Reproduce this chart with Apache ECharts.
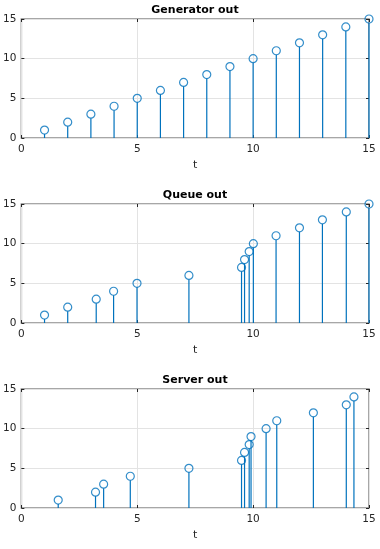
<!DOCTYPE html>
<html><head><meta charset="utf-8">
<script src="https://cdn.jsdelivr.net/npm/echarts@6/dist/echarts.min.js"></script>
<style>html,body{margin:0;padding:0;background:#fff}#c{width:380px;height:549px}</style>
</head><body><div id="c"></div>
<script>
const titles = ['Generator out', 'Queue out', 'Server out'];
const genT = [1,2,3,4,5,6,7,8,9,10,11,12,13,14,15];
const genV = [1,2,3,4,5,6,7,8,9,10,11,12,13,14,15];
const queueT = [1.0,2.0,3.23,3.98,4.99,7.23,9.5,9.63,9.83,10.01,10.99,12.0,12.99,14.02,15.0];
const queueV = [1,2,3,4,5,6,7,8,9,10,11,12,13,14,15];
const serverT = [1.59,3.2,3.55,4.7,7.23,9.5,9.63,9.83,9.91,10.56,11.02,12.6,14.02,14.35];
const serverV = [1,2,3,4,5,6,7,8,9,10,11,12,13,14];
const xTicks = [0,5,10,15];
const yTicks = [0,5,10,15];

const sets = [[genT,genV],[queueT,queueV],[serverT,serverV]];
const tops = [19, 204, 389];
const H = 119;
const FONT = 'DejaVu Sans, Liberation Sans, sans-serif';
const BLUE = '#0072BD';
const LINE = {show:false, onZero:false};
const TICK = {show:true, inside:true, length:3, lineStyle:{color:'#262626', width:1}};
const chart = echarts.init(document.getElementById('c'), null, {renderer:'canvas'});

const grid = [], xAxis = [], yAxis = [], series = [], title = [];
tops.forEach((top, i) => {
  grid.push({left:21, right:11, top:top, height:H, show:true, borderColor:'#8a8a8a', borderWidth:1.5, backgroundColor:'#fff', containLabel:false});
  title.push({text:titles[i], left:190, textAlign:'center', top:top-19,
    textStyle:{fontFamily:FONT, fontSize:11, fontWeight:'bold', color:'#000'}});
  const common = {type:'value', min:xTicks[0], max:xTicks[xTicks.length-1], interval:5, gridIndex:i};
  xAxis.push(Object.assign({}, common, {position:'bottom', name:'t', nameLocation:'middle', nameGap:22,
    nameTextStyle:{fontFamily:FONT, fontSize:11, color:'#262626'},
    axisLine:LINE, axisTick:TICK,
    axisLabel:{fontFamily:FONT, fontSize:10.5, color:'#262626', margin:6},
    splitLine:{show:true, lineStyle:{color:'#e3e3e3', width:1}}}));
  xAxis.push(Object.assign({}, common, {position:'top', axisLine:LINE,
    axisTick:TICK, axisLabel:{show:false}, splitLine:{show:false}}));
  const yc = {type:'value', min:yTicks[0], max:yTicks[yTicks.length-1], interval:5, gridIndex:i};
  yAxis.push(Object.assign({}, yc, {position:'left', axisLine:LINE,
    axisTick:TICK,
    axisLabel:{fontFamily:FONT, fontSize:10.5, color:'#262626', margin:5},
    splitLine:{show:true, lineStyle:{color:'#e3e3e3', width:1}}}));
  yAxis.push(Object.assign({}, yc, {position:'right', axisLine:LINE,
    axisTick:TICK, axisLabel:{show:false}, splitLine:{show:false}}));
  const data = sets[i][0].map((t, k) => [t, sets[i][1][k]]);
  series.push({type:'custom', xAxisIndex:2*i, yAxisIndex:2*i, data:data, silent:true, z:3,
    renderItem:(params, api) => {
      const p = api.coord([api.value(0), api.value(1)]);
      const b = api.coord([api.value(0), 0]);
      return {type:'line', shape:{x1:b[0], y1:b[1], x2:p[0], y2:p[1]+4},
        style:{stroke:BLUE, lineWidth:1.2}};
    }});
  series.push({type:'scatter', xAxisIndex:2*i, yAxisIndex:2*i, data:data, symbol:'circle', symbolSize:8,
    itemStyle:{color:'rgba(0,0,0,0)', borderColor:BLUE, borderWidth:1.2}, z:4, silent:true});
});
chart.setOption({animation:false, backgroundColor:'#fff', title, grid, xAxis, yAxis, series});
</script></body></html>
